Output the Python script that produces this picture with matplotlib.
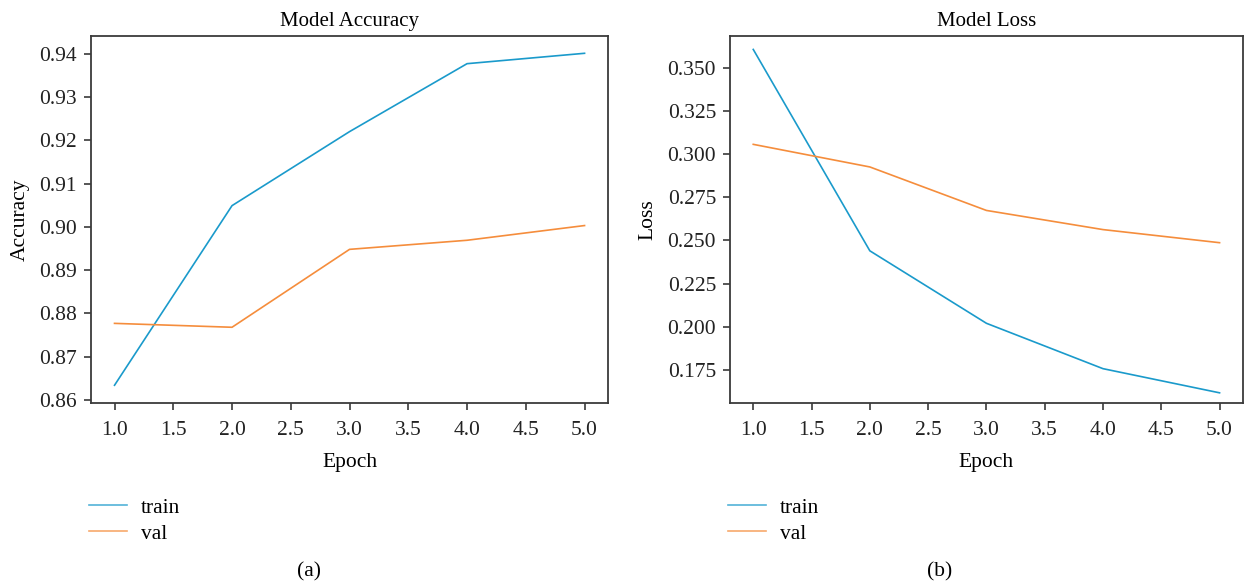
import matplotlib
matplotlib.use("Agg")
import matplotlib.pyplot as plt

plt.rcParams['font.family'] = ['Liberation Serif', 'DejaVu Serif']
plt.rcParams['font.size'] = 15.5

epochs = [1.0, 2.0, 3.0, 4.0, 5.0]
acc_train = [0.8634, 0.9049, 0.9220, 0.9377, 0.9401]
acc_val = [0.8777, 0.8768, 0.8948, 0.8969, 0.9003]
loss_train = [0.3607, 0.2440, 0.2020, 0.1757, 0.1617]
loss_val = [0.3057, 0.2926, 0.2674, 0.2563, 0.2487]

blue = '#1a9acb'
orange = '#f58d3c'
frame = '#3a3a3a'

fig = plt.figure(figsize=(12.45, 5.85), dpi=100)
ax1 = fig.add_axes([0.0731, 0.3111, 0.4153, 0.6274])
ax2 = fig.add_axes([0.5863, 0.3111, 0.4120, 0.6274])


def style(ax, title, ylabel):
    ax.set_title(title, fontsize=15, pad=7)
    ax.set_xlabel('Epoch', labelpad=9)
    ax.set_ylabel(ylabel, labelpad=7)
    for s in ax.spines.values():
        s.set_color(frame)
        s.set_linewidth(1.3)
    ax.tick_params(direction='out', length=5, width=1.2, color=frame,
                   labelcolor='#222222', labelsize=15.5)
    ax.tick_params(axis='x', pad=8)
    ax.tick_params(axis='y', pad=5)
    ax.set_xticks([1.0, 1.5, 2.0, 2.5, 3.0, 3.5, 4.0, 4.5, 5.0])
    ax.set_xlim(0.8, 5.2)
    leg = ax.legend(loc='upper left', bbox_to_anchor=(-0.02, -0.234),
                    frameon=False, handlelength=1.75, handletextpad=0.65,
                    labelspacing=0.28, fontsize=15.5, borderaxespad=0)
    for h in leg.get_lines():
        h.set_alpha(0.75)


ax1.plot(epochs, acc_train, color=blue, lw=1.2, label='train')
ax1.plot(epochs, acc_val, color=orange, lw=1.2, label='val')
ax1.set_yticks([0.86, 0.87, 0.88, 0.89, 0.90, 0.91, 0.92, 0.93, 0.94])
ax1.set_ylim(0.8593, 0.9441)
style(ax1, 'Model Accuracy', 'Accuracy')

ax2.plot(epochs, loss_train, color=blue, lw=1.2, label='train')
ax2.plot(epochs, loss_val, color=orange, lw=1.2, label='val')
ax2.set_yticks([0.175, 0.200, 0.225, 0.250, 0.275, 0.300, 0.325, 0.350])
ax2.set_ylim(0.1558, 0.3685)
style(ax2, 'Model Loss', 'Loss')

fig.text(309 / 1245, 1 - 572 / 585, '(a)', ha='center', va='center', fontsize=15.5)
fig.text(940 / 1245, 1 - 572 / 585, '(b)', ha='center', va='center', fontsize=15.5)

fig.savefig('out.png', dpi=100)
